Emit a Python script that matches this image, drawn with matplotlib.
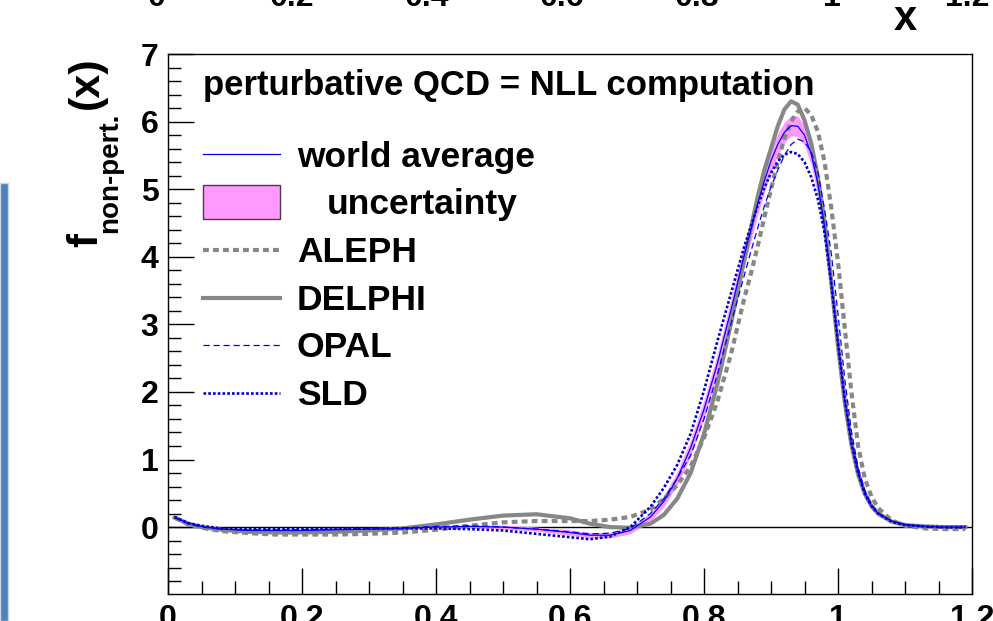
import numpy as np
import matplotlib
matplotlib.use("Agg")
import matplotlib.pyplot as plt
from matplotlib.patches import Rectangle
from matplotlib.lines import Line2D
from matplotlib.ticker import MultipleLocator

# ---- data -------------------------------------------------------------
x = [0.01, 0.03, 0.05, 0.08, 0.12, 0.16, 0.20, 0.25, 0.30, 0.35, 0.40, 0.45,
     0.50, 0.55, 0.60, 0.63, 0.66, 0.69, 0.72, 0.74, 0.76, 0.78, 0.80, 0.82,
     0.84, 0.86, 0.87, 0.88, 0.89, 0.90, 0.91, 0.92, 0.93, 0.94, 0.95, 0.96,
     0.97, 0.98, 0.99, 1.00, 1.01, 1.02, 1.03, 1.04, 1.05, 1.06, 1.08, 1.10,
     1.13, 1.16, 1.19]

world_avg = [0.14, 0.06, 0.01, -0.03, -0.05, -0.05, -0.05, -0.04, -0.03, -0.02,
             0.00, 0.01, 0.00, -0.03, -0.08, -0.12, -0.12, -0.05, 0.15, 0.38,
             0.72, 1.17, 1.74, 2.42, 3.20, 4.02, 4.40, 4.78, 5.12, 5.42,
             5.66, 5.84, 5.94, 5.93, 5.80, 5.52, 5.08, 4.45, 3.62, 2.72,
             1.88, 1.24, 0.80, 0.50, 0.31, 0.20, 0.09, 0.04, 0.01, 0.00, 0.00]

world_unc = [0.02, 0.02, 0.02, 0.02, 0.02, 0.02, 0.02, 0.02, 0.02, 0.02,
             0.02, 0.02, 0.03, 0.03, 0.04, 0.04, 0.04, 0.05, 0.06, 0.08,
             0.10, 0.12, 0.14, 0.15, 0.16, 0.17, 0.17, 0.17, 0.17, 0.16,
             0.16, 0.15, 0.15, 0.15, 0.15, 0.16, 0.18, 0.20, 0.20, 0.20,
             0.18, 0.14, 0.10, 0.07, 0.05, 0.04, 0.02, 0.01, 0.01, 0.01, 0.01]

aleph = [0.14, 0.04, -0.01, -0.06, -0.09, -0.11, -0.11, -0.11, -0.10, -0.08,
         -0.04, 0.02, 0.07, 0.09, 0.09, 0.09, 0.11, 0.15, 0.26, 0.42,
         0.62, 0.90, 1.32, 1.86, 2.55, 3.38, 3.75, 4.15, 4.58, 5.00,
         5.40, 5.75, 6.00, 6.15, 6.20, 6.10, 5.85, 5.40, 4.72, 3.92,
         2.95, 2.00, 1.20, 0.72, 0.45, 0.28, 0.10, 0.02, -0.02, -0.03, -0.03]

delphi = [0.14, 0.05, 0.00, -0.04, -0.07, -0.08, -0.08, -0.07, -0.05, -0.02,
          0.04, 0.11, 0.17, 0.19, 0.13, 0.05, 0.00, -0.01, 0.05, 0.18,
          0.42, 0.80, 1.38, 2.12, 3.00, 3.95, 4.42, 4.88, 5.28, 5.60,
          5.93, 6.18, 6.30, 6.25, 6.02, 5.68, 5.18, 4.50, 3.62, 2.68,
          1.85, 1.22, 0.78, 0.49, 0.31, 0.20, 0.08, 0.03, 0.01, 0.00, 0.00]

opal = [0.14, 0.05, 0.00, -0.03, -0.04, -0.04, -0.04, -0.03, -0.02, -0.01,
        0.01, 0.02, 0.00, -0.03, -0.07, -0.10, -0.09, -0.02, 0.20, 0.42,
        0.72, 1.06, 1.60, 2.26, 3.00, 3.72, 4.08, 4.42, 4.75, 5.03,
        5.28, 5.50, 5.66, 5.74, 5.70, 5.55, 5.25, 4.70, 4.05, 3.15,
        2.20, 1.42, 0.88, 0.54, 0.33, 0.21, 0.09, 0.03, 0.00, -0.01, -0.01]

sld = [0.15, 0.06, 0.02, -0.02, -0.03, -0.03, -0.03, -0.02, -0.02, -0.02,
       -0.02, -0.03, -0.05, -0.10, -0.15, -0.18, -0.14, 0.00, 0.30, 0.58,
       0.92, 1.38, 2.02, 2.75, 3.45, 4.15, 4.45, 4.75, 5.02, 5.24,
       5.41, 5.51, 5.55, 5.52, 5.40, 5.18, 4.85, 4.35, 3.60, 2.72,
       1.90, 1.25, 0.80, 0.50, 0.31, 0.20, 0.08, 0.03, 0.01, 0.00, 0.00]

xticks = [0, 0.2, 0.4, 0.6, 0.8, 1, 1.2]
xtick_labels = ["0", "0.2", "0.4", "0.6", "0.8", "1", "1.2"]
yticks = [0, 1, 2, 3, 4, 5, 6, 7]
ytick_labels = ["0", "1", "2", "3", "4", "5", "6", "7"]

legend_title = "perturbative QCD = NLL computation"
labels = ["world average", "uncertainty", "ALEPH", "DELPHI", "OPAL", "SLD"]

# ---- styles -----------------------------------------------------------
GRAY = "#878787"
BLUE = "#0000ff"
DBLUE = "#0000d0"
PINK = "#ff99ff"

plt.rcParams["font.family"] = ["Liberation Sans", "DejaVu Sans"]
plt.rcParams["font.weight"] = "bold"

W, H = 993, 621
fig = plt.figure(figsize=(W / 100, H / 100), dpi=100)
ax = fig.add_axes([168 / W, 1 - 594 / H, (972 - 168) / W, (594 - 54) / H])

xa = np.array(x)
wa = np.array(world_avg)
unc = np.array(world_unc)

ax.axhline(0, color="black", lw=1.0, zorder=1.5)
ax.fill_between(xa, wa - unc, wa + unc, color=PINK, lw=0, zorder=2)
ax.plot(xa, delphi, color=GRAY, lw=3.0, zorder=3)
ax.plot(xa, aleph, color=GRAY, lw=3.0, linestyle=(0, (1.4, 1.0)),
        dash_capstyle="butt", zorder=4)
ax.plot(xa, world_avg, color=BLUE, lw=0.9, zorder=5)
ax.plot(xa, opal, color=BLUE, lw=0.9, linestyle=(0, (5, 3)), zorder=6)
ax.plot(xa, sld, color=DBLUE, lw=1.9, linestyle=(0, (1, 0.8)),
        dash_capstyle="butt", zorder=7)

ax.set_xlim(0, 1.2)
ax.set_ylim(-0.99, 7)
ax.set_xticks(xticks)
ax.set_xticklabels(xtick_labels)
ax.set_yticks(yticks)
ax.set_yticklabels(ytick_labels)
ax.xaxis.set_minor_locator(MultipleLocator(0.05))
ax.yaxis.set_minor_locator(MultipleLocator(0.2))
ax.tick_params(which="major", direction="in", length=19, width=1.0,
               labelsize=23, top=False, right=False)
ax.tick_params(which="minor", direction="in", length=9.5, width=1.0,
               top=False, right=False)
ax.tick_params(axis="y", pad=7)
ax.tick_params(axis="x", pad=7)
for sp in ax.spines.values():
    sp.set_linewidth(1.0)
    sp.set_color("black")

# ---- legend (drawn in axes fraction) ----------------------------------
def fx(px):
    return (px - 168) / (972 - 168)

def fy(py):
    return (594 - py) / (594 - 54)

tkw = dict(transform=ax.transAxes, fontweight="bold",
           va="baseline", ha="left", zorder=10)
ax.text(fx(203), fy(95), legend_title, fontsize=25, **tkw)

x0, x1 = fx(203), fx(280)
rows = [154, 202, 250, 298, 345, 393]
base = [167, 214, 262, 310, 357, 405]
ax.add_line(Line2D([x0, x1], [fy(rows[0])] * 2, transform=ax.transAxes,
                   color=BLUE, lw=0.9))
ax.add_patch(Rectangle((x0, fy(219)), x1 - x0, fy(185) - fy(219),
                       transform=ax.transAxes, facecolor=PINK,
                       edgecolor="#4a3a4a", lw=1.0))
ax.add_line(Line2D([x0, x1], [fy(rows[2])] * 2, transform=ax.transAxes,
                   color=GRAY, lw=3.0, linestyle=(0, (1.4, 1.0)),
                   dash_capstyle="butt"))
ax.add_line(Line2D([x0, x1], [fy(rows[3])] * 2, transform=ax.transAxes,
                   color=GRAY, lw=3.0))
ax.add_line(Line2D([x0, x1], [fy(rows[4])] * 2, transform=ax.transAxes,
                   color=BLUE, lw=0.9, linestyle=(0, (5, 3))))
ax.add_line(Line2D([x0, x1], [fy(rows[5])] * 2, transform=ax.transAxes,
                   color=DBLUE, lw=1.9, linestyle=(0, (1, 0.8)),
                   dash_capstyle="butt"))
for i, lab in enumerate(labels):
    xl = fx(327) if i == 1 else fx(297)
    ax.text(xl, fy(base[i]), lab, fontsize=25.5, **tkw)

# ---- y-axis title: f_{non-pert.}(x) -----------------------------------
def ft(px, py):
    return px / W, 1 - py / H

rk = dict(rotation=90, rotation_mode="anchor", ha="left", va="baseline",
          fontweight="bold")
fig.text(*ft(97, 247), "f", fontsize=30, **rk)
fig.text(*ft(117, 233), "non-pert.", fontsize=20, **rk)
fig.text(*ft(98, 109), "(x)", fontsize=31, **rk)

# ---- neighbouring panel: axis labels of the plot above -----------------
for i, lab in enumerate(xtick_labels):
    fig.text((157 + 135 * i) / W, 1 - 6 / H, lab, fontsize=23,
             ha="center", va="baseline", fontweight="bold")
fig.text(905 / W, 1 - 30 / H, "x", fontsize=30, ha="center", va="baseline",
         fontweight="bold")

# ---- side bar of the slide --------------------------------------------
fig.patches.append(Rectangle((0, 0), 8 / W, 1 - 183 / H,
                             transform=fig.transFigure, facecolor="#4f81bd",
                             edgecolor="#c9d5e6", lw=1.0))

fig.savefig("out.png", dpi=100)
